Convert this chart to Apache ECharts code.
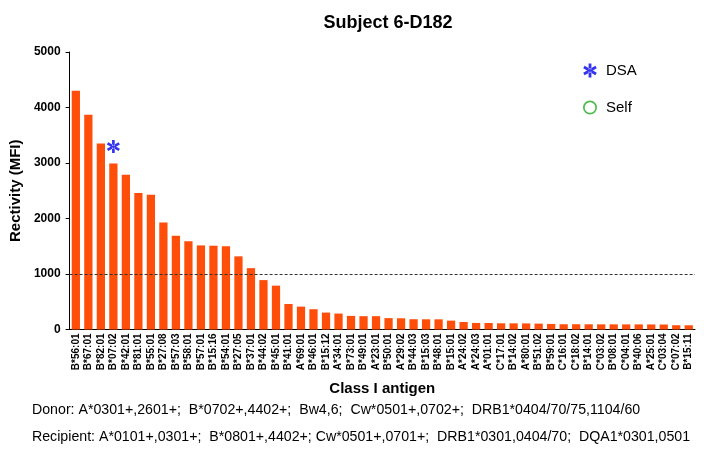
<!DOCTYPE html>
<html>
<head>
<meta charset="utf-8">
<script src="https://cdn.jsdelivr.net/npm/echarts@6/dist/echarts.min.js"></script>
<style>
  html, body { margin: 0; padding: 0; background: #fff; }
  #chart { width: 704px; height: 455px; }
</style>
</head>
<body>
<div id="chart"></div>
<script>
// antigens, sorted by reactivity
const antigens = [
  "B*56:01", "B*67:01", "B*82:01", "B*07:02", "B*42:01", "B*81:01", "B*55:01", "B*27:08", "B*57:03", "B*58:01",
  "B*57:01", "B*15:16", "B*54:01", "B*27:05", "B*37:01", "B*44:02", "B*45:01", "B*41:01", "A*69:01", "B*46:01",
  "B*15:12", "A*34:01", "B*73:01", "B*49:01", "A*23:01", "B*50:01", "A*29:02", "B*44:03", "B*15:03", "B*48:01",
  "B*15:01", "A*24:02", "A*24:03", "A*01:01", "C*17:01", "B*14:02", "A*80:01", "B*51:02", "B*59:01", "C*16:01",
  "C*18:02", "B*14:01", "C*03:02", "B*08:01", "C*04:01", "B*40:06", "A*25:01", "C*03:04", "C*07:02", "B*15:11"
];
const mfi = [
  4300, 3870, 3350, 2990, 2790, 2460, 2430, 1930, 1690, 1590,
  1515, 1510, 1500, 1318, 1105, 890, 790, 460, 412, 365,
  305, 287, 245, 240, 240, 205, 202, 185, 184, 183,
  160, 135, 118, 117, 112, 111, 110, 106, 100, 95,
  95, 94, 93, 93, 92, 92, 91, 90, 77, 76
];
const dsaAntigens = ["B*07:02"];
const selfAntigens = [];
const yTicks = [0, 1000, 2000, 3000, 4000, 5000];
const cutoff = 1000;

const donorText = "Donor: A*0301+,2601+;  B*0702+,4402+;  Bw4,6;  Cw*0501+,0702+;  DRB1*0404/70/75,1104/60";
const recipText = "Recipient: A*0101+,0301+;  B*0801+,4402+; Cw*0501+,0701+;  DRB1*0301,0404/70;  DQA1*0301,0501";

// asterisk made of three bars, ring for the "self" marker
const star = "path://M4,0L6,0L6,10L4,10Z M8.83,8.37L9.83,6.63L1.17,1.63L0.17,3.37Z M9.83,3.37L8.83,1.63L0.17,6.63L1.17,8.37Z";
const ring = "path://M5,0A5,5 0 1,1 4.99,0Z M5,1.2A3.8,3.8 0 1,0 5.01,1.2Z";

const chart = echarts.init(document.getElementById("chart"));
const font = "Liberation Sans, Arial, sans-serif";

chart.setOption({
  backgroundColor: "#fff",
  animation: false,
  title: {
    text: "Subject 6-D182",
    left: 383, top: 9, textAlign: "center",
    textStyle: { fontFamily: font, fontSize: 18, fontWeight: "bold", color: "#000" }
  },
  legend: {
    orient: "vertical",
    left: 578, top: 58,
    itemGap: 22,
    itemWidth: 14, itemHeight: 14,
    textStyle: { fontFamily: font, fontSize: 15, color: "#000", padding: [0, 0, 0, 4] },
    data: [
      { name: "DSA", icon: star },
      { name: "Self", icon: ring }
    ]
  },
  grid: { left: 65, right: 9, top: 52, bottom: 125.5 },
  xAxis: {
    type: "category",
    data: antigens,
    name: "Class I antigen",
    nameLocation: "middle",
    nameGap: 52,
    nameTextStyle: { fontFamily: font, fontSize: 15, fontWeight: "bold", color: "#000" },
    axisLine: { lineStyle: { color: "#000", width: 1 } },
    axisTick: { length: 4, lineStyle: { color: "#000" } },
    axisLabel: {
      interval: 0, rotate: 90, margin: 4,
      fontFamily: font, fontSize: 10, fontWeight: "bold", color: "#000"
    }
  },
  yAxis: {
    type: "value",
    min: yTicks[0], max: yTicks[yTicks.length - 1], interval: 1000,
    name: "Rectivity (MFI)",
    nameLocation: "middle",
    nameGap: 46,
    nameTextStyle: { fontFamily: font, fontSize: 15, fontWeight: "bold", color: "#000" },
    axisLine: { show: true, lineStyle: { color: "#000", width: 1 } },
    axisTick: { show: true, length: 4, lineStyle: { color: "#000" } },
    splitLine: { show: false },
    axisLabel: {
      margin: 9, fontFamily: font, fontSize: 12, fontWeight: "bold", color: "#000",
      formatter: v => String(v)
    }
  },
  series: [
    {
      name: "MFI",
      type: "bar",
      data: mfi,
      barCategoryGap: "34%",
      itemStyle: { color: "#ff4d0a" },
      markLine: {
        silent: true,
        symbol: "none",
        label: { show: false },
        lineStyle: { color: "#333", type: [3, 2], width: 1 },
        data: [{ yAxis: cutoff }]
      }
    },
    {
      name: "DSA",
      type: "scatter",
      symbol: star,
      symbolSize: 13,
      symbolOffset: [0, -17],
      itemStyle: { color: "#0000ee" },
      data: dsaAntigens.map(a => [a, mfi[antigens.indexOf(a)]])
    },
    {
      name: "Self",
      type: "scatter",
      symbol: ring,
      symbolSize: 13,
      itemStyle: { color: "#22aa22" },
      data: selfAntigens.map(a => [a, mfi[antigens.indexOf(a)]])
    }
  ],
  graphic: [
    { type: "text", x: 32, y: 402, scaleX: 0.945, style: { text: donorText, fontFamily: font, fontSize: 15, fill: "#000" } },
    { type: "text", x: 32, y: 429, scaleX: 0.945, style: { text: recipText, fontFamily: font, fontSize: 15, fill: "#000" } }
  ]
});
</script>
</body>
</html>
